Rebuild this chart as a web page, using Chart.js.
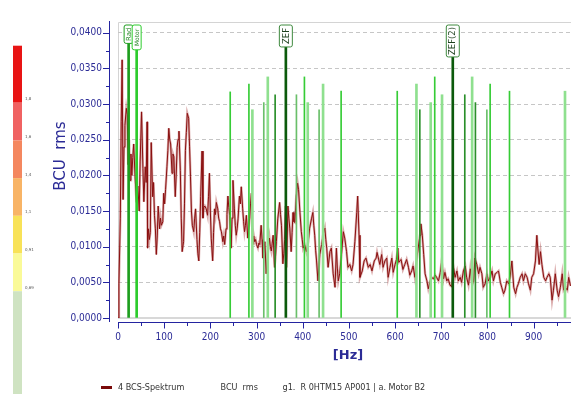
<!DOCTYPE html>
<html>
<head>
<meta charset="utf-8">
<script src="https://cdn.jsdelivr.net/npm/chart.js@4.4.0/dist/chart.umd.min.js"></script>
<style>
  html, body { margin: 0; padding: 0; background: #fff; }
  #wrap { width: 571px; height: 394px; position: relative; }
</style>
</head>
<body>
<div id="wrap"><canvas id="spectrumChart" width="571" height="394"></canvas></div>
<script>
// spectrum
const freqHz = [
  0, 2, 5, 7, 9, 11, 13, 15, 18, 20,
  22, 24, 26, 28, 30, 32, 34, 37, 40, 43,
  46, 48, 51, 54, 56, 59, 61, 63, 64, 66,
  68, 70, 72, 75, 77, 79, 81, 83, 85, 87,
  90, 92, 94, 97, 99, 101, 103, 106, 108, 110,
  112, 114, 117, 119, 121, 124, 126, 128, 130, 132,
  135, 137, 139, 142, 144, 146, 148, 150, 153, 155,
  157, 159, 161, 164, 166, 168, 171, 173, 175, 177,
  179, 182, 184, 186, 188, 191, 194, 196, 198, 200,
  202, 205, 207, 209, 211, 213, 216, 218, 220, 222,
  224, 227, 229, 231, 234, 236, 238, 240, 242, 245,
  247, 249, 252, 254, 256, 258, 260, 263, 265, 267,
  270, 272, 274, 276, 278, 281, 283, 285, 287, 289,
  292, 294, 296, 298, 300, 303, 305, 307, 310, 312,
  314, 316, 318, 321, 323, 325, 328, 330, 332, 334,
  336, 339, 341, 343, 346, 348, 350, 352, 354, 357,
  359, 361, 363, 365, 368, 370, 372, 375, 377, 379,
  381, 383, 386, 389, 391, 394, 397, 399, 401, 404,
  406, 408, 410, 412, 415, 419, 422, 424, 426, 428,
  430, 433, 435, 437, 441, 444, 448, 450, 452, 455,
  459, 462, 464, 466, 470, 473, 475, 477, 480, 484,
  488, 491, 495, 498, 502, 506, 509, 513, 517, 519,
  522, 524, 529, 533, 537, 542, 546, 550, 555, 559,
  561, 567, 571, 574, 578, 582, 585, 589, 593, 596,
  600, 603, 606, 608, 613, 617, 621, 625, 629, 632,
  636, 639, 643, 647, 650, 654, 656, 659, 662, 665,
  669, 672, 676, 679, 683, 687, 690, 694, 698, 701,
  705, 708, 712, 715, 719, 723, 726, 730, 734, 737,
  741, 744, 748, 752, 755, 759, 763, 767, 770, 773,
  777, 781, 784, 788, 791, 795, 799, 802, 806, 810,
  813, 817, 821, 824, 828, 831, 835, 838, 842, 846,
  849, 853, 857, 861, 864, 867, 871, 875, 878, 882,
  886, 889, 893, 896, 900, 904, 907, 909, 912, 915,
  918, 922, 926, 929, 933, 936, 940, 943, 947, 951,
  954, 958, 962, 965, 969, 973, 976, 980
];
const bcsRms = [
  0.0000, 0.0048, 0.0140, 0.0275, 0.0362, 0.0166, 0.0240, 0.0270, 0.0294, 0.0285,
  0.0215, 0.0250, 0.0193, 0.0230, 0.0200, 0.0225, 0.0244, 0.0198, 0.0162, 0.0185,
  0.0150, 0.0220, 0.0289, 0.0210, 0.0163, 0.0212, 0.0190, 0.0275, 0.0098, 0.0125,
  0.0110, 0.0120, 0.0246, 0.0170, 0.0190, 0.0144, 0.0125, 0.0089, 0.0115, 0.0157,
  0.0125, 0.0140, 0.0130, 0.0135, 0.0175, 0.0160, 0.0180, 0.0212, 0.0235, 0.0266,
  0.0250, 0.0244, 0.0203, 0.0230, 0.0226, 0.0170, 0.0200, 0.0239, 0.0250, 0.0262,
  0.0207, 0.0140, 0.0093, 0.0107, 0.0160, 0.0235, 0.0260, 0.0287, 0.0280, 0.0240,
  0.0198, 0.0150, 0.0130, 0.0121, 0.0140, 0.0153, 0.0110, 0.0090, 0.0080, 0.0120,
  0.0170, 0.0234, 0.0140, 0.0155, 0.0157, 0.0153, 0.0144, 0.0170, 0.0203, 0.0150,
  0.0111, 0.0080, 0.0120, 0.0153, 0.0145, 0.0162, 0.0153, 0.0140, 0.0135, 0.0125,
  0.0121, 0.0107, 0.0115, 0.0103, 0.0125, 0.0145, 0.0171, 0.0155, 0.0144, 0.0098,
  0.0140, 0.0193, 0.0153, 0.0130, 0.0116, 0.0125, 0.0139, 0.0171, 0.0160, 0.0184,
  0.0153, 0.0135, 0.0121, 0.0130, 0.0144, 0.0112, 0.0125, 0.0139, 0.0160, 0.0175,
  0.0103, 0.0115, 0.0107, 0.0110, 0.0103, 0.0098, 0.0105, 0.0103, 0.0130, 0.0110,
  0.0084, 0.0095, 0.0107, 0.0062, 0.0080, 0.0094, 0.0112, 0.0100, 0.0094, 0.0105,
  0.0116, 0.0071, 0.0085, 0.0107, 0.0139, 0.0150, 0.0162, 0.0145, 0.0130, 0.0076,
  0.0090, 0.0110, 0.0157, 0.0071, 0.0157, 0.0140, 0.0126, 0.0093, 0.0120, 0.0148,
  0.0135, 0.0134, 0.0171, 0.0189, 0.0180, 0.0148, 0.0121, 0.0110, 0.0098, 0.0103,
  0.0098, 0.0093, 0.0100, 0.0107, 0.0126, 0.0139, 0.0148, 0.0130, 0.0116, 0.0095,
  0.0080, 0.0052, 0.0070, 0.0089, 0.0103, 0.0116, 0.0126, 0.0110, 0.0098, 0.0071,
  0.0093, 0.0098, 0.0080, 0.0062, 0.0043, 0.0098, 0.0070, 0.0052, 0.0062, 0.0089,
  0.0121, 0.0112, 0.0093, 0.0071, 0.0075, 0.0066, 0.0075, 0.0107, 0.0148, 0.0171,
  0.0116, 0.0057, 0.0066, 0.0080, 0.0084, 0.0071, 0.0075, 0.0066, 0.0080, 0.0084,
  0.0092, 0.0075, 0.0089, 0.0071, 0.0080, 0.0084, 0.0057, 0.0071, 0.0084, 0.0064,
  0.0075, 0.0082, 0.0098, 0.0078, 0.0082, 0.0068, 0.0075, 0.0082, 0.0071, 0.0060,
  0.0066, 0.0073, 0.0057, 0.0082, 0.0098, 0.0116, 0.0132, 0.0116, 0.0089, 0.0062,
  0.0052, 0.0041, 0.0052, 0.0057, 0.0055, 0.0060, 0.0057, 0.0052, 0.0064, 0.0080,
  0.0055, 0.0064, 0.0052, 0.0055, 0.0046, 0.0044, 0.0073, 0.0057, 0.0066, 0.0052,
  0.0057, 0.0050, 0.0066, 0.0073, 0.0057, 0.0046, 0.0069, 0.0046, 0.0052, 0.0084,
  0.0075, 0.0062, 0.0071, 0.0062, 0.0043, 0.0048, 0.0062, 0.0052, 0.0057, 0.0066,
  0.0052, 0.0062, 0.0064, 0.0066, 0.0050, 0.0043, 0.0034, 0.0039, 0.0052, 0.0048,
  0.0057, 0.0080, 0.0043, 0.0034, 0.0043, 0.0048, 0.0057, 0.0062, 0.0052, 0.0062,
  0.0057, 0.0048, 0.0039, 0.0057, 0.0062, 0.0080, 0.0116, 0.0098, 0.0075, 0.0093,
  0.0075, 0.0057, 0.0052, 0.0057, 0.0062, 0.0057, 0.0025, 0.0039, 0.0062, 0.0039,
  0.0030, 0.0043, 0.0062, 0.0039, 0.0043, 0.0039, 0.0057, 0.0045
];

// sideband / harmonic marker lines
const sidebandHz = [243, 283.5, 291, 315.7, 324.4, 340.3, 386.4, 403.7, 410.9, 435.5, 444.1, 483.2,
  604.7, 646.3, 653.6, 677.2, 685.9, 701.7, 751, 766.9, 774, 798.8, 805.9, 847.8, 968];
const sidebandAmp = [0.0317, 0.0328, 0.0292, 0.0302, 0.0338, 0.0313, 0.0313, 0.0338, 0.0302, 0.0292, 0.0328, 0.0318,
  0.0318, 0.0328, 0.0292, 0.0302, 0.0338, 0.0313, 0.0313, 0.0338, 0.0302, 0.0292, 0.0328, 0.0318, 0.0318];
const sidebandKind = ['bright', 'bright', 'light', 'mid', 'light', 'dark', 'mid', 'bright', 'light', 'mid', 'light', 'bright',
  'bright', 'light', 'dark', 'light', 'bright', 'light', 'dark', 'light', 'dark', 'mid', 'bright', 'bright', 'light'];

// named orders with label boxes
const orderHz = [23, 40.4, 363.5, 725];
const orderAmp = [0.0385, 0.0376, 0.0380, 0.0366];
const orderLabels = ['Rad', 'Motor', 'ZEF', 'ZEF(2)'];

// severity scale on the left
const bandLabels = ['1,8', '1,6', '1,4', '1,1', '0,91', '0,69', ''];
const bandColors = ['#e81414', '#f06262', '#f4875f', '#f8b466', '#f8e258', '#fafa98', '#cfe3c2'];

const legendTexts = ['4 BCS-Spektrum', 'BCU  rms', 'g1.  R 0HTM15 AP001 | a. Motor B2'];

const kindStyle = {
  bright: { color: '#36cc36', width: 1 },
  light: { color: '#8fe08f', width: 2 },
  mid: { color: '#6abf6a', width: 1 },
  dark: { color: '#2a8f2a', width: 1 }
};
const orderColors = ['#1e9e1e', '#2ccc2c', '#0b5a0b', '#0b5a0b'];
const orderFont = [7, 6, 8.5, 8.5];
const orderBoxW = [9, 9, 13, 13];

const NAVY = '#2b2b96';
const TICK_FONT = "'DejaVu Sans Condensed', 'DejaVu Sans', sans-serif";

function fmtBcu(v) {
  return v.toFixed(4).replace('.', ',');
}

const decorPlugin = {
  id: 'decor',
  beforeDraw(chart) {
    const ctx = chart.ctx;
    const area = chart.chartArea;
    ctx.save();
    ctx.fillStyle = '#fff';
    ctx.fillRect(0, 0, chart.width, chart.height);

    // colour scale
    let y = 45.7;
    bandColors.forEach((c, i) => {
      const h = i === 0 ? 57 : (i === bandColors.length - 1 ? chart.height - y : 37.7);
      ctx.fillStyle = c;
      ctx.fillRect(13, y, 9, h);
      if (bandLabels[i]) {
        ctx.fillStyle = '#555';
        ctx.font = "4px 'DejaVu Sans', sans-serif";
        ctx.textBaseline = 'middle';
        ctx.fillText(bandLabels[i], 25, y + h - 3.5);
      }
      y += h;
    });

    // plot frame
    ctx.strokeStyle = '#d4d4d4';
    ctx.lineWidth = 1;
    ctx.beginPath();
    ctx.moveTo(area.left + 0.5, area.bottom);
    ctx.lineTo(area.left + 0.5, area.top + 0.5);
    ctx.lineTo(area.right, area.top + 0.5);
    ctx.stroke();
    ctx.fillStyle = '#d8d8d8';
    ctx.fillRect(area.left, area.bottom - 1, area.right - area.left, 2);
    ctx.restore();
  },
  afterDatasetsDraw(chart) {
    const { ctx, chartArea, scales } = chart;
    orderLabels.forEach((label, i) => {
      const x = scales.x.getPixelForValue(orderHz[i]);
      const bottom = scales.y.getPixelForValue(orderAmp[i]);
      const top = chartArea.top + 3;
      const w = orderBoxW[i];
      ctx.save();
      ctx.beginPath();
      if (ctx.roundRect) ctx.roundRect(x - w / 2, top, w, bottom - top, 2);
      else ctx.rect(x - w / 2, top, w, bottom - top);
      ctx.fillStyle = '#fff';
      ctx.fill();
      ctx.strokeStyle = orderColors[i] === '#0b5a0b' ? '#3f8a3f' : orderColors[i];
      ctx.lineWidth = 1;
      ctx.stroke();
      ctx.translate(x, (top + bottom) / 2);
      ctx.rotate(-Math.PI / 2);
      ctx.font = orderFont[i] + "px 'DejaVu Sans', sans-serif";
      ctx.textAlign = 'center';
      ctx.textBaseline = 'middle';
      ctx.fillStyle = orderColors[i] === '#0b5a0b' ? '#1d3f1d' : '#2a8a2a';
      ctx.fillText(label, 0, 0.5);
      ctx.restore();
    });
  },
  afterDraw(chart) {
    const { ctx, chartArea, scales } = chart;
    const ys = scales.y, xs = scales.x;
    ctx.save();
    ctx.strokeStyle = '#2424a0';
    ctx.lineWidth = 1;

    // y axis, set off from the plot
    const ax = 109.5;
    ctx.beginPath();
    ctx.moveTo(ax, chartArea.top - 1);
    ctx.lineTo(ax, chartArea.bottom + 4);
    for (let v = 0; v <= ys.max + 1e-9; v += 0.0025) {
      const py = Math.round(ys.getPixelForValue(v)) + 0.5;
      const major = Math.round(v * 10000) % 50 === 0;
      ctx.moveTo(major ? 103 : 106, py);
      ctx.lineTo(ax, py);
    }
    ctx.stroke();

    // x axis
    const ay = 322.5;
    ctx.beginPath();
    ctx.moveTo(chartArea.left, ay);
    ctx.lineTo(chart.width, ay);
    for (let f = 0; f <= xs.max; f += 50) {
      const px = Math.round(xs.getPixelForValue(f)) + 0.5;
      ctx.moveTo(px, ay);
      ctx.lineTo(px, f % 100 === 0 ? 328.5 : 326);
    }
    ctx.stroke();

    // axis titles
    ctx.fillStyle = NAVY;
    ctx.save();
    ctx.translate(61, 156);
    ctx.rotate(-Math.PI / 2);
    ctx.font = "15px 'DejaVu Sans', sans-serif";
    ctx.textAlign = 'center';
    ctx.textBaseline = 'middle';
    ctx.fillText('BCU  rms', 0, 0);
    ctx.restore();
    ctx.font = "bold 13px 'DejaVu Sans', sans-serif";
    ctx.textAlign = 'center';
    ctx.textBaseline = 'middle';
    ctx.fillText('[Hz]', 348, 356);

    // legend line
    ctx.fillStyle = '#7a0a0a';
    ctx.fillRect(101, 386, 11, 3);
    ctx.fillStyle = '#333';
    ctx.font = "9px " + TICK_FONT;
    ctx.textAlign = 'left';
    ctx.textBaseline = 'middle';
    const legendX = [118, 220.5, 282.5];
    legendTexts.forEach((t, i) => ctx.fillText(t, legendX[i], 387.5));
    ctx.restore();
  }
};

const spectrumPoints = freqHz.map((f, i) => ({ x: f, y: bcsRms[i] }));

const markerSets = Object.keys(kindStyle).map(kind => {
  const pts = [];
  sidebandHz.forEach((f, i) => {
    if (sidebandKind[i] === kind) pts.push({ x: f, y: sidebandAmp[i] });
  });
  return {
    type: 'bar',
    label: kind,
    data: pts,
    backgroundColor: kindStyle[kind].color,
    barThickness: kindStyle[kind].width,
    borderWidth: 0,
    grouped: false,
    order: 1
  };
});

const orderSet = {
  type: 'bar',
  label: 'orders',
  data: orderHz.map((f, i) => ({ x: f, y: orderAmp[i] })),
  backgroundColor: orderColors,
  barThickness: 2,
  borderWidth: 0,
  grouped: false,
  order: 0
};

const ctx = document.getElementById('spectrumChart').getContext('2d');

new Chart(ctx, {
  type: 'bar',
  data: {
    datasets: [
      {
        // soft halo under the trace, like the anti-aliased original
        type: 'line',
        label: 'halo',
        data: spectrumPoints,
        borderColor: 'rgba(190, 105, 105, 0.55)',
        borderWidth: 2.4,
        pointRadius: 0,
        tension: 0,
        fill: false,
        order: 3
      },
      {
        type: 'line',
        label: legendTexts[0],
        data: spectrumPoints,
        borderColor: '#8a0f0f',
        borderWidth: 1,
        pointRadius: 0,
        tension: 0,
        fill: false,
        order: 2
      },
      ...markerSets,
      orderSet
    ]
  },
  options: {
    responsive: false,
    animation: false,
    layout: { padding: { top: 14, left: 0, right: 0, bottom: 0 } },
    plugins: {
      legend: { display: false },
      tooltip: { enabled: false }
    },
    scales: {
      x: {
        type: 'linear',
        min: 0,
        max: 981,
        offset: false,
        afterFit: s => { s.height = 76; },
        grid: { display: false, drawTicks: false, offset: false },
        border: { display: false },
        ticks: {
          stepSize: 100,
          includeBounds: false,
          padding: 13,
          color: NAVY,
          font: { family: TICK_FONT, size: 10 },
          maxRotation: 0,
          callback: v => (v % 100 === 0 ? String(v) : '')
        }
      },
      y: {
        min: 0,
        max: 0.0415,
        afterFit: s => { s.width = 118; },
        grid: {
          drawTicks: false,
          color: c => (c.tick && c.tick.value === 0 ? 'rgba(0,0,0,0)' : '#c6c6c6'),
          lineWidth: 1
        },
        border: { display: false, dash: [4, 3] },
        ticks: {
          stepSize: 0.005,
          includeBounds: false,
          padding: 16,
          color: NAVY,
          font: { family: TICK_FONT, size: 10 },
          callback: v => fmtBcu(v)
        }
      }
    }
  },
  plugins: [decorPlugin]
});
</script>
</body>
</html>
